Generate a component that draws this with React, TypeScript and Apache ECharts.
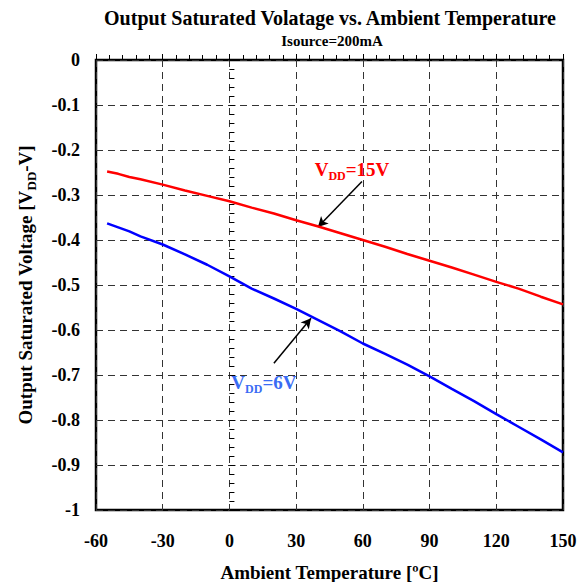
import React, { useEffect, useRef } from "react";
import * as echarts from "echarts";

const temps = [-55, -50, -45, -40, -30, -20, -10, 0, 10, 20, 30, 40, 50, 60, 70, 80, 90, 100, 110, 120, 130, 140, 150];
const vdd15 = [-0.248, -0.253, -0.26, -0.265, -0.277, -0.29, -0.302, -0.314, -0.328, -0.341, -0.356, -0.37, -0.385, -0.4, -0.415, -0.431, -0.446, -0.461, -0.477, -0.493, -0.508, -0.526, -0.543];
const vdd6 = [-0.363, -0.372, -0.381, -0.392, -0.41, -0.432, -0.455, -0.481, -0.508, -0.53, -0.553, -0.578, -0.603, -0.63, -0.653, -0.677, -0.703, -0.731, -0.758, -0.787, -0.815, -0.843, -0.872];

const titleText = "Output Saturated Volatage vs. Ambient Temperature";
const subtitleText = "Isource=200mA";
const xName = "Ambient Temperature [ºC]";

const FONT = "'Liberation Serif', 'Times New Roman', serif";

function labelPoint(coord: number[], main: string, tail: string, color: string) {
  return {
    coord,
    symbol: "circle",
    symbolSize: 1,
    itemStyle: { color: "rgba(0,0,0,0)" },
    label: {
      show: true,
      position: "inside",
      formatter: `{v|${main}}{s|DD}{v|${tail}}`,
      rich: {
        v: { fontFamily: FONT, fontWeight: "bold", fontSize: 19, color, lineHeight: 22, verticalAlign: "bottom" },
        s: { fontFamily: FONT, fontWeight: "bold", fontSize: 12, color, lineHeight: 22, verticalAlign: "bottom", padding: [0, 0, -3, 0] },
      },
    },
  };
}

export default function App() {
  const ref = useRef<HTMLDivElement>(null);
  useEffect(() => {
    const chart = echarts.init(ref.current!, null, { renderer: "svg" });
    const pair = (xs: number[], ys: number[]) => xs.map((x, i) => [x, ys[i]]);
    const arrowStyle = { color: "#000", width: 1.5, type: "solid" as const };
    chart.setOption({
      animation: false,
      textStyle: { fontFamily: FONT },
      graphic: [
        {
          type: "text",
          x: 330,
          y: 18,
          style: { text: titleText, font: `bold 20px ${FONT}`, fill: "#000", align: "center", verticalAlign: "middle" },
        },
        {
          type: "text",
          x: 332,
          y: 41,
          style: { text: subtitleText, font: `bold 15px ${FONT}`, fill: "#000", align: "center", verticalAlign: "middle" },
        },
      ],
      grid: {
        left: 96,
        right: 25,
        top: 60,
        bottom: 72,
        outerBoundsMode: "none",
        containLabel: false,
        show: true,
        borderColor: "#000",
        borderWidth: 2.5,
        backgroundColor: "transparent",
      },
      xAxis: {
        type: "value",
        min: -60,
        max: 150,
        interval: 30,
        name: xName,
        nameLocation: "middle",
        nameGap: 53,
        nameTextStyle: { fontFamily: FONT, fontWeight: "bold", fontSize: 19, color: "#000" },
        axisLine: { show: false },
        axisTick: { show: true, inside: true, length: 6, lineStyle: { color: "#000", width: 1 } },
        minorTick: { show: true, splitNumber: 5, length: 5, lineStyle: { color: "#000", width: 1 } },
        axisLabel: { fontFamily: FONT, fontWeight: "bold", fontSize: 18, color: "#000", margin: 22 },
        splitLine: { show: true, lineStyle: { color: "#333", width: 1, type: [7, 5] } },
      },
      yAxis: {
        type: "value",
        min: -1,
        max: 0,
        interval: 0.1,
        name: "{b|Output Saturated Voltage [V}{s|DD}{b|-V]}",
        nameLocation: "middle",
        nameGap: 61,
        nameTextStyle: {
          color: "#000",
          rich: {
            b: { fontFamily: FONT, fontWeight: "bold", fontSize: 19, color: "#000", lineHeight: 22, verticalAlign: "bottom" },
            s: { fontFamily: FONT, fontWeight: "bold", fontSize: 13, color: "#000", lineHeight: 22, verticalAlign: "bottom", padding: [0, 0, -3, 0] },
          },
        },
        axisLine: { show: false },
        axisTick: { show: true, inside: true, length: 6, lineStyle: { color: "#000", width: 1 } },
        minorTick: { show: true, splitNumber: 5, length: 5, lineStyle: { color: "#000", width: 1 } },
        axisLabel: {
          fontFamily: FONT,
          fontWeight: "bold",
          fontSize: 18,
          color: "#000",
          margin: 16,
          formatter: (v: number) => (Math.abs(v) < 1e-9 ? "0" : String(Math.round(v * 10) / 10)),
        },
        splitLine: { show: true, lineStyle: { color: "#333", width: 1, type: [7, 5] } },
      },
      series: [
        {
          type: "line",
          name: "VDD=15V",
          data: pair(temps, vdd15),
          showSymbol: false,
          smooth: false,
          lineStyle: { color: "#ff0000", width: 2.5 },
          itemStyle: { color: "#ff0000" },
          z: 5,
          markLine: {
            silent: true,
            symbol: ["none", "arrow"],
            symbolSize: [8, 10],
            label: { show: false },
            lineStyle: arrowStyle,
            data: [[{ coord: [59.6, -0.27] }, { coord: [39.8, -0.371] }]],
          },
          markPoint: {
            silent: true,
            data: [labelPoint([55.1, -0.241], "V", "=15V", "#ff0000")],
          },
        },
        {
          type: "line",
          name: "VDD=6V",
          data: pair(temps, vdd6),
          showSymbol: false,
          smooth: false,
          lineStyle: { color: "#0000ff", width: 2.5 },
          itemStyle: { color: "#0000ff" },
          z: 5,
          markLine: {
            silent: true,
            symbol: ["none", "arrow"],
            symbolSize: [8, 10],
            label: { show: false },
            lineStyle: arrowStyle,
            data: [[{ coord: [20.0, -0.674] }, { coord: [36.7, -0.574] }]],
          },
          markPoint: {
            silent: true,
            data: [labelPoint([15.5, -0.714], "V", "=6V", "#3a6cf4")],
          },
        },
      ],
    });
    return () => chart.dispose();
  }, []);
  return <div ref={ref} style={{ width: 588, height: 582, position: "absolute", left: 0, top: 0 }} />;
}
